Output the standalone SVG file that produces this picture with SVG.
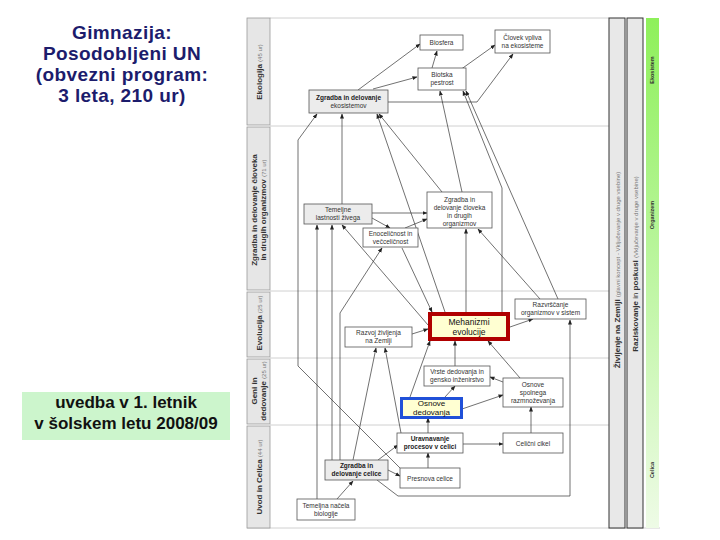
<svg xmlns="http://www.w3.org/2000/svg" width="720" height="540" viewBox="0 0 720 540">
<defs>
<marker id="ah" viewBox="0 0 10 10" refX="9" refY="5" markerWidth="5" markerHeight="5" orient="auto-start-reverse" markerUnits="userSpaceOnUse">
<path d="M0,1 L10,5 L0,9 z" fill="#222"/>
</marker>
<linearGradient id="grn" x1="0" y1="0" x2="0" y2="1">
<stop offset="0" stop-color="#8ef05a"/>
<stop offset="0.45" stop-color="#b8f59a"/>
<stop offset="1" stop-color="#eefbe6"/>
</linearGradient>
<style>
text{font-family:"Liberation Sans",Arial,sans-serif;}
.nb{fill:#fff;stroke:#555;stroke-width:0.8;}
.ng{fill:#ececec;stroke:#555;stroke-width:0.8;}
.nt{font-size:6.5px;fill:#333;text-anchor:middle;}
.ntb{font-size:6.5px;fill:#222;text-anchor:middle;font-weight:bold;}
.band{fill:#e6e6e6;stroke:#999;stroke-width:0.8;}
.bl{font-size:8px;font-weight:bold;fill:#333;text-anchor:middle;}
.bs{font-size:6px;font-weight:normal;fill:#777;}
.sep{stroke:#d0d0d0;stroke-width:1;fill:none;}
.c{stroke:#333;stroke-width:0.7;fill:none;}
.ca{stroke:#333;stroke-width:0.7;fill:none;marker-end:url(#ah);}
.title{font-size:19px;font-weight:bold;fill:#1c1c6c;text-anchor:middle;letter-spacing:0.4px;}
</style>
</defs>
<rect width="720" height="540" fill="#fff"/>

<g id="title">
<text class="title" x="122" y="39">Gimnazija:</text>
<text class="title" x="122" y="60">Posodobljeni UN</text>
<text class="title" x="122" y="81">(obvezni program:</text>
<text class="title" x="122" y="102">3 leta, 210 ur)</text>
</g>
<g id="intro-note">
<rect x="22" y="392" width="208" height="48" fill="#ccf5cc"/>
<text x="126" y="408" font-size="17" font-weight="bold" text-anchor="middle" fill="#111">uvedba v 1. letnik</text>
<text x="126" y="429" font-size="17" font-weight="bold" text-anchor="middle" fill="#111">v šolskem letu 2008/09</text>
</g>

<g id="frame">
<line class="sep" x1="270" y1="18" x2="609" y2="18"/>
<line class="sep" x1="270" y1="126" x2="609" y2="126"/>
<line class="sep" x1="270" y1="291" x2="609" y2="291"/>
<line class="sep" x1="270" y1="358" x2="609" y2="358"/>
<line class="sep" x1="270" y1="425" x2="609" y2="425"/>
<line class="sep" x1="247" y1="528" x2="660" y2="528"/>
</g>

<g id="left-bands">
<rect class="band" x="247" y="18" width="23" height="107"/>
<text class="bl" transform="translate(262,72) rotate(-90)">Ekologija <tspan class="bs">(45 ur)</tspan></text>
<rect class="band" x="247" y="127" width="23" height="163"/>
<text class="bl" transform="translate(257,210) rotate(-90)">Zgradba in delovanje človeka</text>
<text class="bl" transform="translate(266,210) rotate(-90)">in drugih organizmov <tspan class="bs">(71 ur)</tspan></text>
<rect class="band" x="247" y="292" width="23" height="65"/>
<text class="bl" transform="translate(262,323) rotate(-90)">Evolucija <tspan class="bs">(25 ur)</tspan></text>
<rect class="band" x="247" y="359" width="23" height="65"/>
<text class="bl" transform="translate(257,391) rotate(-90)">Geni in</text>
<text class="bl" transform="translate(266,391) rotate(-90)">dedovanje <tspan class="bs">(25 ur)</tspan></text>
<rect class="band" x="247" y="426" width="23" height="102"/>
<text class="bl" transform="translate(262,477) rotate(-90)">Uvod in Celica <tspan class="bs">(44 ur)</tspan></text>
</g>

<g id="right-bands">
<rect x="609" y="18" width="16" height="510" fill="#e8e8e8" stroke="#333" stroke-width="1"/>
<text class="bl" font-size="7.5" transform="translate(620,270) rotate(-90)">Življenje na Zemlji <tspan class="bs">(glavni koncept - Vključevanje v druge vsebine)</tspan></text>
<rect x="627" y="18" width="16" height="510" fill="#e8e8e8" stroke="#333" stroke-width="1"/>
<text class="bl" font-size="7.5" transform="translate(638,264) rotate(-90)">Raziskovanje <tspan font-weight="normal">in</tspan> poskusi <tspan class="bs">(Vključevanje v druge vsebine)</tspan></text>
<rect x="646" y="18" width="13" height="510" fill="url(#grn)"/>
<text font-size="5.5" font-weight="bold" fill="#333" text-anchor="middle" transform="translate(654,70) rotate(-90)">Ekosistem</text>
<text font-size="5.5" font-weight="bold" fill="#333" text-anchor="middle" transform="translate(654,215) rotate(-90)">Organizem</text>
<text font-size="5.5" font-weight="bold" fill="#333" text-anchor="middle" transform="translate(654,470) rotate(-90)">Celica</text>
</g>

<g id="connectors">
<line class="ca" x1="358" y1="90" x2="420" y2="44"/>
<line class="ca" x1="373" y1="89" x2="417" y2="77"/>
<line class="ca" x1="432" y1="68" x2="437" y2="51"/>
<line class="ca" x1="460" y1="70" x2="495" y2="45"/>
<polyline class="ca" points="388,102 477,102 513,54"/>
<line class="ca" x1="462" y1="192" x2="440" y2="91"/>
<polyline class="ca" points="502,312 502,188 463,91"/>
<line class="ca" x1="558" y1="299" x2="466" y2="91"/>
<line class="ca" x1="342" y1="204" x2="342" y2="114"/>
<polyline class="ca" points="400,468 298,366 298,140 317,114"/>
<line class="ca" x1="442" y1="192" x2="379" y2="114"/>
<line class="ca" x1="445" y1="312" x2="377" y2="114"/>
<line class="ca" x1="372" y1="213" x2="427" y2="213"/>
<line class="ca" x1="372" y1="218" x2="390" y2="228"/>
<line class="ca" x1="405" y1="228" x2="427" y2="219"/>
<line class="ca" x1="428" y1="325" x2="342" y2="225"/>
<polyline class="ca" points="340,460 340,313 382,248" stroke-width="1.2"/>
<line class="ca" x1="332" y1="460" x2="332" y2="225"/>
<line class="ca" x1="317" y1="499" x2="317" y2="225"/>
<line class="ca" x1="402" y1="248" x2="432" y2="312"/>
<line class="ca" x1="466" y1="312" x2="466" y2="229"/>
<line class="ca" x1="540" y1="299" x2="478" y2="229"/>
<line class="ca" x1="412" y1="334" x2="428" y2="329"/>
<line class="ca" x1="510" y1="327" x2="533" y2="319"/>
<line class="ca" x1="455" y1="366" x2="455" y2="341"/>
<line class="ca" x1="520" y1="378" x2="488" y2="341"/>
<line class="ca" x1="503" y1="382" x2="490" y2="377"/>
<line class="ca" x1="445" y1="397" x2="455" y2="386"/>
<line class="ca" x1="462" y1="409" x2="503" y2="395"/>
<line class="ca" x1="410" y1="397" x2="430" y2="341"/>
<line class="ca" x1="531" y1="433" x2="531" y2="407" stroke-width="1.4"/>
<line class="ca" x1="463" y1="444" x2="503" y2="444"/>
<line class="ca" x1="428" y1="468" x2="428" y2="453"/>
<line class="ca" x1="428" y1="433" x2="428" y2="418"/>
<line class="ca" x1="378" y1="460" x2="398" y2="445"/>
<line class="ca" x1="337" y1="499" x2="353" y2="481"/>
<line class="ca" x1="353" y1="460" x2="376" y2="348"/>
<line class="ca" x1="401" y1="433" x2="385" y2="348"/>
<line class="ca" x1="388" y1="470" x2="400" y2="476"/>
<polyline class="ca" points="377,480 398,496 570,496 570,320"/>
</g>

<g id="n-biosfera"><rect class="nb" x="420" y="35" width="43" height="15"/><text class="nt" x="441.5" y="45">Biosfera</text></g>
<g id="n-clovek"><rect class="nb" x="495" y="30" width="55" height="23"/><text class="nt" x="522.5" y="40">Človek vpliva</text><text class="nt" x="522.5" y="48">na ekosisteme</text></g>
<g id="n-biotska"><rect class="nb" x="418" y="68" width="48" height="22"/><text class="nt" x="442" y="77">Biotska</text><text class="nt" x="442" y="85">pestrost</text></g>
<g id="n-ekosistemi"><rect class="ng" x="309" y="90" width="79" height="23"/><text class="ntb" x="348.5" y="100">Zgradba in delovanje</text><text class="nt" x="348.5" y="108">ekosistemov</text></g>
<g id="n-temeljne"><rect class="ng" x="304" y="204" width="68" height="20"/><text class="nt" x="338" y="212">Temeljne</text><text class="nt" x="338" y="220">lastnosti živega</text></g>
<g id="n-enocel"><rect class="nb" x="363" y="228" width="55" height="19"/><text class="nt" x="390.5" y="236">Enoceličnost in</text><text class="nt" x="390.5" y="244">večceličnost</text></g>
<g id="n-organizmi"><rect class="nb" x="427" y="192" width="65" height="36"/><text class="nt" x="459.5" y="202">Zgradba in</text><text class="nt" x="459.5" y="210">delovanje človeka</text><text class="nt" x="459.5" y="218">in drugih</text><text class="nt" x="459.5" y="226">organizmov</text></g>
<g id="n-razvoj"><rect class="nb" x="345" y="327" width="67" height="20"/><text class="nt" x="378.5" y="335">Razvoj življenja</text><text class="nt" x="378.5" y="343">na Zemlji</text></g>
<g id="n-mehanizmi"><rect x="430" y="314" width="78" height="25" fill="#ffffd2" stroke="#b00000" stroke-width="4"/><text x="469" y="325" font-size="8.5" text-anchor="middle" fill="#111">Mehanizmi</text><text x="469" y="335" font-size="8.5" text-anchor="middle" fill="#111">evolucije</text></g>
<g id="n-razvrscanje"><rect class="nb" x="515" y="299" width="71" height="20"/><text class="nt" x="550.5" y="307">Razvrščanje</text><text class="nt" x="550.5" y="315">organizmov v sistem</text></g>
<g id="n-vrste"><rect class="nb" x="424" y="366" width="66" height="20"/><text class="nt" x="457" y="374">Vrste dedovanja in</text><text class="nt" x="457" y="382">gensko inženirstvo</text></g>
<g id="n-spolno"><rect class="nb" x="503" y="378" width="60" height="29"/><text class="nt" x="533" y="387">Osnove</text><text class="nt" x="533" y="395">spolnega</text><text class="nt" x="533" y="403">razmnoževanja</text></g>
<g id="n-dedovanje"><rect x="401.5" y="398.5" width="60" height="19" fill="#ffffd2" stroke="#2050d8" stroke-width="3"/><text x="431.5" y="406" font-size="8" text-anchor="middle" fill="#111">Osnove</text><text x="431.5" y="415" font-size="8" text-anchor="middle" fill="#111">dedovanja</text></g>
<g id="n-uravnavanje"><rect class="nb" x="397" y="433" width="66" height="20"/><text class="ntb" x="430" y="441">Uravnavanje</text><text class="ntb" x="430" y="449">procesov v celici</text></g>
<g id="n-cikel"><rect class="nb" x="503" y="433" width="60" height="20"/><text class="nt" x="533" y="445.5">Celični cikel</text></g>
<g id="n-celica"><rect class="ng" x="325" y="460" width="63" height="20"/><text class="ntb" x="356.5" y="468">Zgradba in</text><text class="ntb" x="356.5" y="476">delovanje celice</text></g>
<g id="n-presnova"><rect class="nb" x="400" y="468" width="60" height="20"/><text class="nt" x="430" y="480.5">Presnova celice</text></g>
<g id="n-nacela"><rect class="nb" x="297" y="499" width="58" height="21"/><text class="nt" x="326" y="508">Temeljna načela</text><text class="nt" x="326" y="516">biologije</text></g>
</svg>
